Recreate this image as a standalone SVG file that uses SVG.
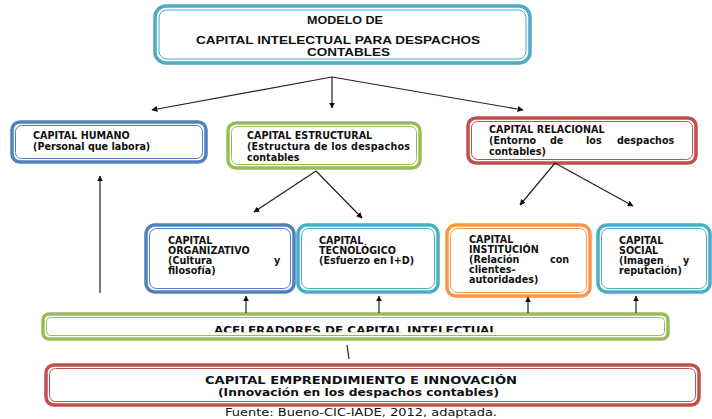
<svg xmlns="http://www.w3.org/2000/svg" width="712" height="419" viewBox="0 0 712 419">
<style>
.o{fill:#fff;stroke-width:3.5}
.i{fill:none;stroke-width:1}
.blue{stroke:#4f81bd}.green{stroke:#9bbb59}.red{stroke:#c0504d}.teal{stroke:#4bacc6}.orange{stroke:#f79646}
.t{font-family:"DejaVu Sans",sans-serif;font-weight:bold;font-size:9.6px;fill:#111}
.h{font-family:"Liberation Sans",Arial,sans-serif;font-weight:bold;font-size:10px;fill:#111}
.c{stroke:#222;stroke-width:1.2;fill:none}
.f{font-family:"DejaVu Sans",sans-serif;font-size:10.5px;fill:#111}
</style>
<defs>
<marker id="ah" viewBox="0 0 10 10" refX="9" refY="5" markerWidth="6" markerHeight="6" orient="auto-start-reverse" markerUnits="userSpaceOnUse">
<path d="M0,0 L10,5 L0,10 z" fill="#111"/>
</marker>
<clipPath id="clipA"><rect x="40" y="310" width="640" height="22.3"/></clipPath>
</defs>

<g id="modelo">
<rect class="o teal" x="155" y="6" width="375" height="57" rx="11"/>
<rect class="i teal" x="159" y="10" width="367" height="49" rx="8"/>
<text class="h" x="307" y="24" textLength="76" lengthAdjust="spacingAndGlyphs">MODELO DE</text>
<text class="h" x="196" y="44" textLength="284" lengthAdjust="spacingAndGlyphs">CAPITAL INTELECTUAL PARA DESPACHOS</text>
<text class="h" x="307" y="56" textLength="83" lengthAdjust="spacingAndGlyphs">CONTABLES</text>
</g>

<g id="humano">
<rect class="o blue" x="12" y="122" width="194" height="40" rx="8"/>
<rect class="i blue" x="15.5" y="125.5" width="187" height="33" rx="6"/>
<text class="t" x="33" y="139">CAPITAL HUMANO</text>
<text class="t" x="33" y="150">(Personal que labora)</text>
</g>

<g id="estructural">
<rect class="o green" x="228" y="123" width="192" height="45" rx="8"/>
<rect class="i green" x="231.5" y="126.5" width="185" height="38" rx="6"/>
<text class="t" x="247" y="139">CAPITAL ESTRUCTURAL</text>
<text class="t" x="247" y="150" textLength="163">(Estructura de los despachos</text>
<text class="t" x="247" y="161">contables</text>
</g>

<g id="relacional">
<rect class="o red" x="468" y="118" width="228" height="45" rx="8"/>
<rect class="i red" x="471.5" y="121.5" width="221" height="38" rx="6"/>
<text class="t" x="489" y="133">CAPITAL RELACIONAL</text>
<text class="t" y="144"><tspan x="489">(Entorno</tspan><tspan x="550">de</tspan><tspan x="586">los</tspan><tspan x="617">despachos</tspan></text>
<text class="t" x="489" y="155">contables)</text>
</g>

<g id="organizativo">
<rect class="o blue" x="146" y="225" width="148" height="67" rx="9"/>
<rect class="i blue" x="149.5" y="228.5" width="141" height="60" rx="7"/>
<text class="t" x="168" y="244">CAPITAL</text>
<text class="t" x="168" y="254">ORGANIZATIVO</text>
<text class="t" y="264"><tspan x="168">(Cultura</tspan><tspan x="274">y</tspan></text>
<text class="t" x="168" y="274">filosofía)</text>
</g>

<g id="tecnologico">
<rect class="o teal" x="298" y="225" width="140" height="67" rx="9"/>
<rect class="i teal" x="301.5" y="228.5" width="133" height="60" rx="7"/>
<text class="t" x="319" y="244">CAPITAL</text>
<text class="t" x="319" y="254">TECNOLÓGICO</text>
<text class="t" x="319" y="264">(Esfuerzo en I+D)</text>
</g>

<g id="institucion">
<rect class="o orange" x="447" y="225" width="143" height="71" rx="9"/>
<rect class="i orange" x="450.5" y="228.5" width="136" height="64" rx="7"/>
<text class="t" x="469" y="243">CAPITAL</text>
<text class="t" x="469" y="253">INSTITUCIÓN</text>
<text class="t" y="263"><tspan x="469">(Relación</tspan><tspan x="550">con</tspan></text>
<text class="t" x="469" y="273">clientes-</text>
<text class="t" x="469" y="283">autoridades)</text>
</g>

<g id="social">
<rect class="o teal" x="598" y="225" width="112" height="67" rx="9"/>
<rect class="i teal" x="601.5" y="228.5" width="105" height="60" rx="7"/>
<text class="t" x="619" y="244">CAPITAL</text>
<text class="t" x="619" y="254">SOCIAL</text>
<text class="t" y="264"><tspan x="619">(Imagen</tspan><tspan x="683">y</tspan></text>
<text class="t" x="619" y="274">reputación)</text>
</g>

<g id="aceleradores">
<rect class="o green" x="43" y="314" width="625" height="25" rx="6"/>
<rect class="i green" x="46.5" y="317.5" width="618" height="18" rx="4"/>
<text class="t" x="214" y="333.5" font-size="12" textLength="283" lengthAdjust="spacingAndGlyphs" clip-path="url(#clipA)">ACELERADORES DE CAPITAL INTELECTUAL</text>
</g>

<g id="emprendimiento">
<rect class="o red" x="46" y="365" width="653" height="40" rx="8"/>
<rect class="i red" x="49.5" y="368.5" width="646" height="33" rx="6"/>
<text class="t" x="205" y="384" font-size="10.5" textLength="312" lengthAdjust="spacingAndGlyphs">CAPITAL EMPRENDIMIENTO E INNOVACIÓN</text>
<text class="t" x="218" y="396" font-size="10.5" textLength="281" lengthAdjust="spacingAndGlyphs">(Innovación en los despachos contables)</text>
</g>

<text class="f" x="225" y="416" textLength="272" lengthAdjust="spacingAndGlyphs">Fuente: Bueno-CIC-IADE, 2012, adaptada.</text>

<g id="connectors">
<path class="c" d="M332,77 L152,110" marker-end="url(#ah)"/>
<path class="c" d="M332,77 L332,108" marker-end="url(#ah)"/>
<path class="c" d="M332,77 L523,110" marker-end="url(#ah)"/>
<path class="c" d="M316,171 L254,212" marker-end="url(#ah)"/>
<path class="c" d="M316,171 L362,218" marker-end="url(#ah)"/>
<path class="c" d="M555,163 L520,205" marker-end="url(#ah)"/>
<path class="c" d="M555,163 L633,206" marker-end="url(#ah)"/>
<path class="c" d="M100,293 L100,176" marker-end="url(#ah)"/>
<path class="c" d="M246,313 L246,296" marker-end="url(#ah)"/>
<path class="c" d="M379,313 L379,296" marker-end="url(#ah)"/>
<path class="c" d="M528,313 L528,297" marker-end="url(#ah)"/>
<path class="c" d="M636,313 L636,296" marker-end="url(#ah)"/>
<path class="c" d="M347,345 L349,359"/>
</g>
</svg>
